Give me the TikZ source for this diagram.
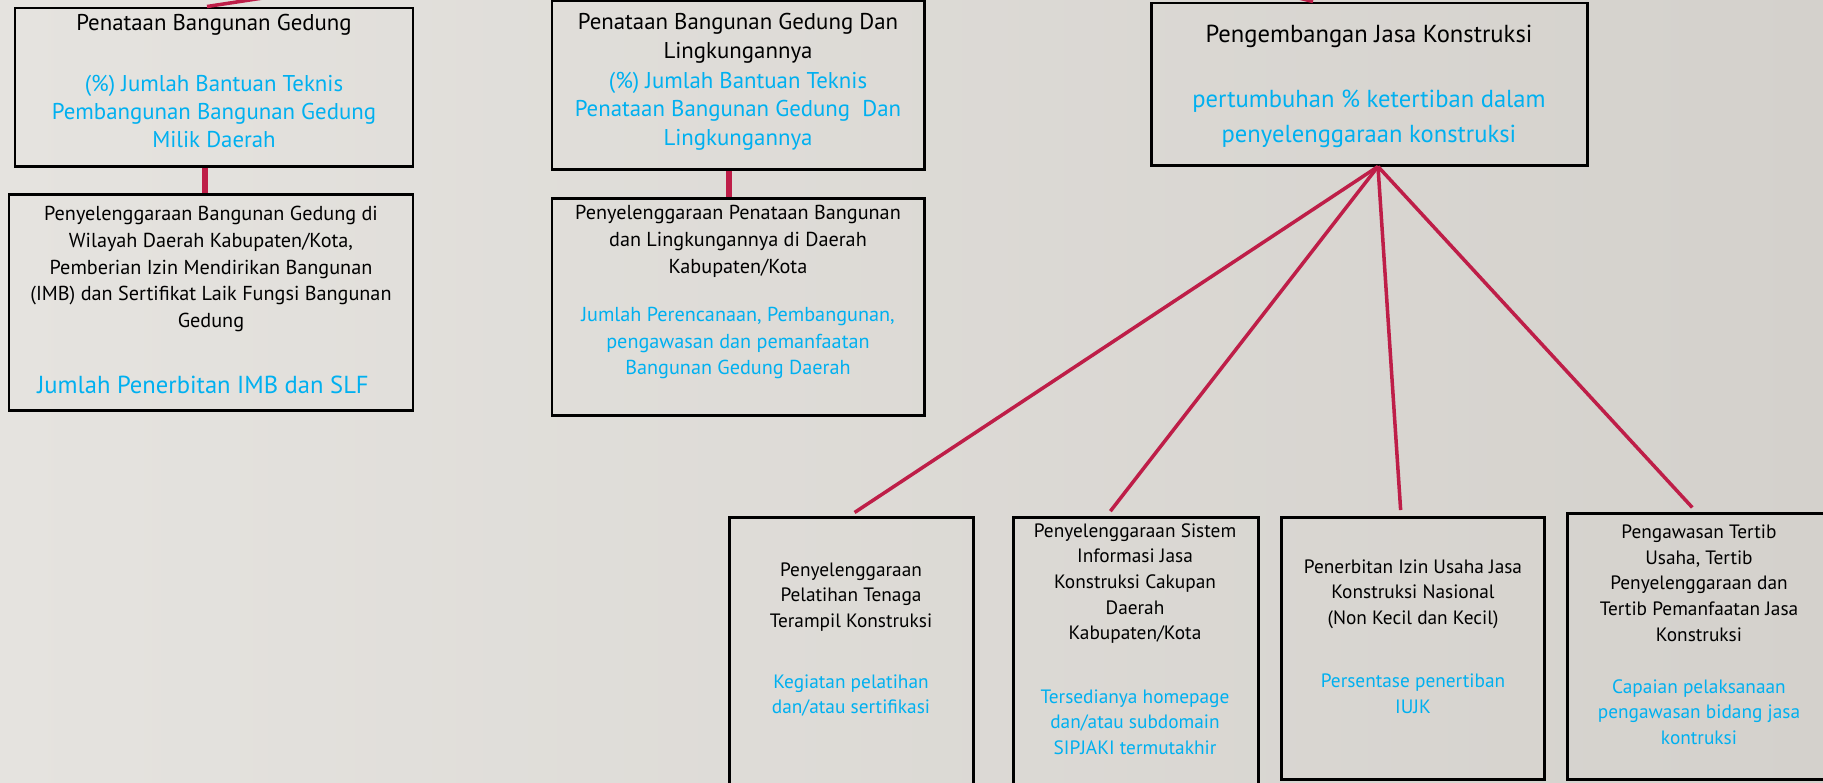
\documentclass[tikz,border=0pt]{standalone}
\usepackage{fontspec}
\setmainfont{PT Sans}
\usetikzlibrary{fit}
\definecolor{linkred}{RGB}{190,30,72}
\definecolor{kpiblue}{RGB}{0,176,240}
\definecolor{bgleft}{RGB}{229,227,223}
\definecolor{bgright}{RGB}{212,209,204}

\begin{document}
\begin{tikzpicture}[x=0.02cm, y=-0.02cm,
  box/.style={draw=black, line width=1.7pt, inner sep=0pt},
  ttl/.style={align=center, inner sep=0pt},
  kpi/.style={align=center, inner sep=0pt, text=kpiblue},
  lg/.style={font=\fontsize{13}{16.2}\selectfont},
  md/.style={font=\fontsize{11.5}{15.3}\selectfont},
  sm/.style={font=\fontsize{11}{14.6}\selectfont},
  xl/.style={font=\fontsize{14}{19.8}\selectfont},
  link/.style={draw=linkred, line width=2pt},
  stem/.style={draw=linkred, line width=3.4pt}
]
\useasboundingbox (0,0) rectangle (1823,782);
\clip (0,0) rectangle (1823,782);
\shade[left color=bgleft, right color=bgright] (0,0) rectangle (1823,782);

% upper row
\node[box, fit={(15,8) (413,166)}] (a1) {};
\node[box, fit={(9,194) (413,410)}] (a2) {};
\node[box, fit={(552,1) (924,169)}] (b1) {};
\node[box, fit={(552,198) (924,415)}] (b2) {};
\node[box, fit={(1151,3) (1587,165)}] (c1) {};

\node[ttl, lg] (a1t) at (214,25) {Penataan Bangunan Gedung};
\node[kpi, lg] (a1k) at (214,111.5)
  {(\%) Jumlah Bantuan Teknis\\Pembangunan Bangunan Gedung\\Milik Daerah};
\node[ttl, md] (a2t) at (211,269)
  {Penyelenggaraan Bangunan Gedung di\\Wilayah Daerah Kabupaten/Kota,\\
   Pemberian Izin Mendirikan Bangunan\\(IMB) dan Sertifikat Laik Fungsi Bangunan\\Gedung};
\node[kpi, font=\fontsize{14}{17}\selectfont] (a2k) at (203,385) {Jumlah Penerbitan IMB dan SLF};

\node[ttl, lg] (b1t) at (738,38.5) {Penataan Bangunan Gedung Dan\\Lingkungannya};
\node[kpi, lg] (b1k) at (738,111)
  {(\%) Jumlah Bantuan Teknis\\Penataan Bangunan Gedung\ \ Dan\\Lingkungannya};
\node[ttl, md] (b2t) at (738,241)
  {Penyelenggaraan Penataan Bangunan\\dan Lingkungannya di Daerah\\Kabupaten/Kota};
\node[kpi, md] (b2k) at (738,343)
  {Jumlah Perencanaan, Pembangunan,\\pengawasan dan pemanfaatan\\Bangunan Gedung Daerah};

\node[ttl, xl] (c1t) at (1369,36) {Pengembangan Jasa Konstruksi};
\node[kpi, xl] (c1k) at (1369,118.5)
  {pertumbuhan \% ketertiban dalam\\penyelenggaraan konstruksi};

% lower row
\node[box, fit={(729,517) (973,800)}] (d1) {};
\node[box, fit={(1013,517) (1258,800)}] (d2) {};
\node[box, fit={(1281,517) (1544,779)}] (d3) {};
\node[box, fit={(1567,513) (1840,779)}] (d4) {};

\node[ttl, sm] (d1t) at (851,597) {Penyelenggaraan\\Pelatihan Tenaga\\Terampil Konstruksi};
\node[kpi, sm] (d1k) at (851,695.5) {Kegiatan pelatihan\\dan/atau sertifikasi};
\node[ttl, sm] (d2t) at (1135,583.5)
  {Penyelenggaraan Sistem\\Informasi Jasa\\Konstruksi Cakupan\\Daerah\\Kabupaten/Kota};
\node[kpi, sm] (d2k) at (1135,722)
  {Tersedianya homepage\\dan/atau subdomain\\SIPJAKI termutakhir};
\node[ttl, sm] (d3t) at (1413,594)
  {Penerbitan Izin Usaha Jasa\\Konstruksi Nasional\\(Non Kecil dan Kecil)};
\node[kpi, sm] (d3k) at (1413,693.5) {Persentase penertiban\\IUJK};
\node[ttl, sm] (d4t) at (1699,583)
  {Pengawasan Tertib\\Usaha, Tertib\\Penyelenggaraan dan\\Tertib Pemanfaatan Jasa\\Konstruksi};
\node[kpi, sm] (d4k) at (1699,712)
  {Capaian pelaksanaan\\pengawasan bidang jasa\\kontruksi};

% connectors
\coordinate (up) at (906,-100);
\draw[link] (up) -- (a1.north -| 207,0);
\draw[link] (up) -- (c1.north -| 1313,0);
\draw[stem] (a1.south -| 205,0) -- (a2.north -| 205,0);
\draw[stem] (b1.south -| 729,0) -- (b2.north -| 729,0);
\coordinate (hub) at (c1.south -| 1378,0);
\foreach \d/\x in {d1/850, d2/1107, d3/1401, d4/1696}
  \draw[link, shorten >=0.11cm] (hub) -- (\d.north -| \x,0);
\end{tikzpicture}
\end{document}
